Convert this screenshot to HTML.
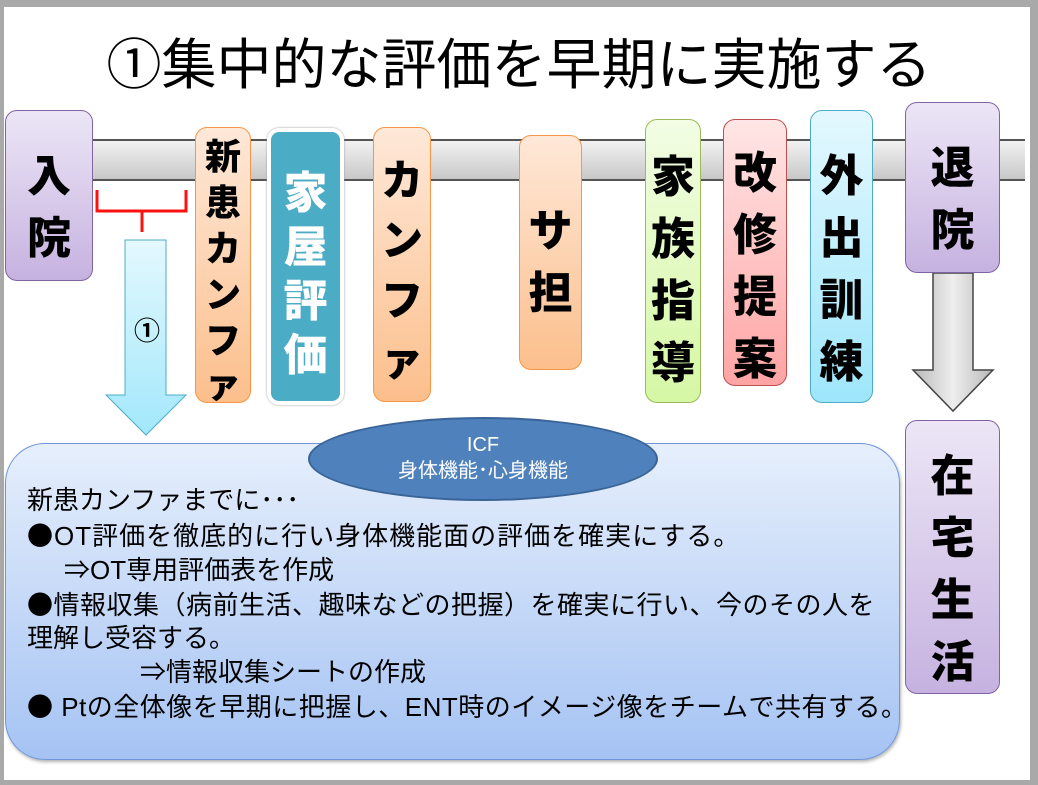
<!DOCTYPE html>
<html><head><meta charset="utf-8"><style>
*{margin:0;padding:0;box-sizing:border-box}
body{width:1038px;height:785px;position:relative;overflow:hidden;background:#a9a9a9;font-family:"Liberation Sans","Noto Sans CJK JP",sans-serif}
.slide{position:absolute;left:4px;top:7px;width:1026px;height:773px;background:#fff}
.a{position:absolute}
.box{position:absolute;border-radius:12px;text-align:center;font-weight:900;color:#000;display:flex;flex-direction:column;align-items:center;font-family:"Noto Sans CJK JP",sans-serif}
.box span{display:block}
.or{background:linear-gradient(#fee8d8,#fcbf8c);border:1.5px solid #f79646}
.pu{background:linear-gradient(#ece6f6,#c6b2e0);border:1.5px solid #8064a2}
.t{position:absolute;font-size:26px;white-space:nowrap;color:#000;line-height:1}
.b{font-family:"Noto Sans CJK JP",sans-serif}
</style></head><body>
<div class="slide"></div>
<div class="a" style="left:0;top:33px;width:1038px;text-align:center;font-size:55px;line-height:64px">①集中的な評価を早期に実施する</div>
<div class="a" style="left:90px;top:139px;width:935px;height:42px;background:linear-gradient(#f2f2f2,#c8c8c8);border-top:2px solid #555;border-bottom:2px solid #555"></div>

<div class="box pu" style="left:5px;top:110px;width:88px;height:171px;font-size:44px;line-height:62px;padding-top:30px"><span>入</span><span>院</span></div>

<svg class="a" style="left:0;top:0" width="1038" height="785">
<path d="M97 190 V211 H186 V190 M142 211 V232" fill="none" stroke="#ff1010" stroke-width="3"/>
<defs><linearGradient id="lb" x1="0" y1="0" x2="0" y2="1"><stop offset="0" stop-color="#e4f8fe"/><stop offset="1" stop-color="#a2e8fb"/></linearGradient>
<linearGradient id="gr" x1="0" y1="0" x2="1" y2="0"><stop offset="0" stop-color="#b8b8b8"/><stop offset="0.5" stop-color="#eeeeee"/><stop offset="1" stop-color="#b8b8b8"/></linearGradient></defs>
<path d="M125 240 H166 V395 H186 L146 435 L106 395 H125 Z" fill="url(#lb)" stroke="#4bacc6" stroke-width="1"/>
<text x="147" y="340" font-size="26" text-anchor="middle" font-family="Liberation Sans,Noto Sans CJK JP,sans-serif" font-weight="bold">①</text>
<path d="M933 273 H973 V370 H993 L953 411 L913 370 H933 Z" fill="url(#gr)" stroke="#444" stroke-width="1.5"/>
</svg>

<div class="box or" style="left:195px;top:127px;width:56px;height:276px;font-size:36px;line-height:46px;padding-top:3px;overflow:hidden"><span>新</span><span>患</span><span>カ</span><span>ン</span><span>フ</span><span style="margin-top:-2px">ァ</span></div>
<div class="box" style="left:267px;top:128px;width:77px;height:277px;background:#4bacc6;border:4px solid #fff;box-shadow:0 0 2px #999;color:#fff;font-size:44px;line-height:54px;padding-top:30px"><span>家</span><span>屋</span><span>評</span><span>価</span></div>
<div class="box or" style="left:373px;top:127px;width:58px;height:275px;font-size:42px;line-height:60px;padding-top:20px"><span>カ</span><span>ン</span><span>フ</span><span>ァ</span></div>
<div class="box or" style="left:519px;top:135px;width:63px;height:235px;font-size:44px;line-height:62px;padding-top:60px"><span>サ</span><span>担</span></div>
<div class="box" style="left:645px;top:119px;width:56px;height:284px;background:linear-gradient(#f2fde4,#d5f8a4);border:1.5px solid #9bbb59;font-size:44px;line-height:62px;padding-top:22px"><span>家</span><span>族</span><span>指</span><span>導</span></div>
<div class="box" style="left:723px;top:119px;width:64px;height:267px;background:linear-gradient(#ffe6e6,#ffa4a4);border:1.5px solid #c0504d;font-size:44px;line-height:62px;padding-top:18px"><span>改</span><span>修</span><span>提</span><span>案</span></div>
<div class="box" style="left:810px;top:110px;width:63px;height:293px;background:linear-gradient(#e4f8fe,#9ee6fb);border:1.5px solid #4bacc6;font-size:44px;line-height:62px;padding-top:30px"><span>外</span><span>出</span><span>訓</span><span>練</span></div>
<div class="box pu" style="left:905px;top:102px;width:95px;height:171px;font-size:44px;line-height:62px;padding-top:30px"><span>退</span><span>院</span></div>
<div class="box pu" style="left:905px;top:420px;width:95px;height:274px;font-size:44px;line-height:62px;padding-top:20px"><span>在</span><span>宅</span><span>生</span><span>活</span></div>

<div class="a" style="left:5px;top:443px;width:895px;height:317px;border-radius:40px;background:linear-gradient(#e6effc,#a5c3f3);border:1.5px solid #6f96d8;box-shadow:1px 2px 3px rgba(0,0,0,.3)"></div>
<div class="a" style="left:308px;top:417px;width:350px;height:84px;border-radius:50%;background:#4f81bd;border:2px solid #3a6497;color:#fff;text-align:center;font-size:20px;line-height:26px;padding-top:13px">ICF<br>身体機能･心身機能</div>

<div class="t" style="left:27px;top:487px">新患カンファまでに･･･</div>
<div class="t" style="left:27px;top:522px;letter-spacing:1px"><span class="b">●</span>OT評価を徹底的に行い身体機能面の評価を確実にする。</div>
<div class="t" style="left:64px;top:557px">⇒OT専用評価表を作成</div>
<div class="t" style="left:27px;top:591px;letter-spacing:0.5px"><span class="b">●</span>情報収集（病前生活、趣味などの把握）を確実に行い、今のその人を</div>
<div class="t" style="left:27px;top:625px">理解し受容する。</div>
<div class="t" style="left:140px;top:659px">⇒情報収集シートの作成</div>
<div class="t" style="left:27px;top:693px;letter-spacing:0.5px"><span class="b">●</span> Ptの全体像を早期に把握し、ENT時のイメージ像をチームで共有する。</div>
</body></html>
